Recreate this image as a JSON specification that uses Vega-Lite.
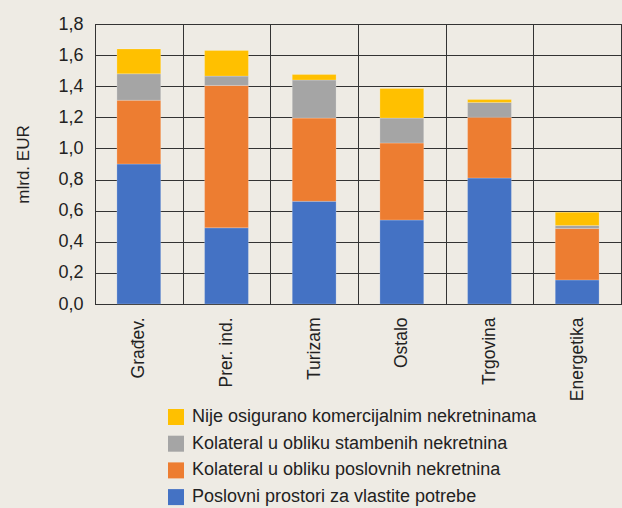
{
  "$schema": "https://vega.github.io/schema/vega-lite/v6.json",
  "autosize": {"type": "none"},
  "padding": {"left": 95, "top": 24, "right": 1, "bottom": 204},
  "width": 526,
  "height": 280,
  "background": "#EEEBE4",
  "config": {
    "font": "Liberation Sans, Arial, sans-serif",
    "view": {"stroke": "#333333", "strokeWidth": 1}
  },
  "data": {
    "values": [
      {"sektor": "Građev.", "vrsta": "Poslovni prostori za vlastite potrebe", "iznos": 0.90},
      {"sektor": "Građev.", "vrsta": "Kolateral u obliku poslovnih nekretnina", "iznos": 0.41},
      {"sektor": "Građev.", "vrsta": "Kolateral u obliku stambenih nekretnina", "iznos": 0.17},
      {"sektor": "Građev.", "vrsta": "Nije osigurano komercijalnim nekretninama", "iznos": 0.16},
      {"sektor": "Prer. ind.", "vrsta": "Poslovni prostori za vlastite potrebe", "iznos": 0.49},
      {"sektor": "Prer. ind.", "vrsta": "Kolateral u obliku poslovnih nekretnina", "iznos": 0.915},
      {"sektor": "Prer. ind.", "vrsta": "Kolateral u obliku stambenih nekretnina", "iznos": 0.06},
      {"sektor": "Prer. ind.", "vrsta": "Nije osigurano komercijalnim nekretninama", "iznos": 0.165},
      {"sektor": "Turizam", "vrsta": "Poslovni prostori za vlastite potrebe", "iznos": 0.66},
      {"sektor": "Turizam", "vrsta": "Kolateral u obliku poslovnih nekretnina", "iznos": 0.535},
      {"sektor": "Turizam", "vrsta": "Kolateral u obliku stambenih nekretnina", "iznos": 0.245},
      {"sektor": "Turizam", "vrsta": "Nije osigurano komercijalnim nekretninama", "iznos": 0.035},
      {"sektor": "Ostalo", "vrsta": "Poslovni prostori za vlastite potrebe", "iznos": 0.54},
      {"sektor": "Ostalo", "vrsta": "Kolateral u obliku poslovnih nekretnina", "iznos": 0.495},
      {"sektor": "Ostalo", "vrsta": "Kolateral u obliku stambenih nekretnina", "iznos": 0.16},
      {"sektor": "Ostalo", "vrsta": "Nije osigurano komercijalnim nekretninama", "iznos": 0.19},
      {"sektor": "Trgovina", "vrsta": "Poslovni prostori za vlastite potrebe", "iznos": 0.81},
      {"sektor": "Trgovina", "vrsta": "Kolateral u obliku poslovnih nekretnina", "iznos": 0.39},
      {"sektor": "Trgovina", "vrsta": "Kolateral u obliku stambenih nekretnina", "iznos": 0.095},
      {"sektor": "Trgovina", "vrsta": "Nije osigurano komercijalnim nekretninama", "iznos": 0.02},
      {"sektor": "Energetika", "vrsta": "Poslovni prostori za vlastite potrebe", "iznos": 0.155},
      {"sektor": "Energetika", "vrsta": "Kolateral u obliku poslovnih nekretnina", "iznos": 0.33},
      {"sektor": "Energetika", "vrsta": "Kolateral u obliku stambenih nekretnina", "iznos": 0.02},
      {"sektor": "Energetika", "vrsta": "Nije osigurano komercijalnim nekretninama", "iznos": 0.085}
    ]
  },
  "transform": [
    {"calculate": "indexof(['Poslovni prostori za vlastite potrebe', 'Kolateral u obliku poslovnih nekretnina', 'Kolateral u obliku stambenih nekretnina', 'Nije osigurano komercijalnim nekretninama'], datum.vrsta)", "as": "redoslijed"}
  ],
  "mark": {"type": "bar", "width": {"band": 0.5}, "stroke": "#ffffff", "strokeOpacity": 0.35, "strokeWidth": 0.6},
  "encoding": {
    "x": {
      "field": "sektor",
      "type": "nominal",
      "sort": null,
      "scale": {"paddingInner": 0, "paddingOuter": 0},
      "axis": {
        "title": null,
        "labelAngle": -90,
        "labelAlign": "right",
        "labelBaseline": "middle",
        "labelPadding": 13,
        "labelFontSize": 17.5,
        "labelColor": "#222222",
        "ticks": false,
        "tickBand": "extent",
        "grid": true,
        "gridColor": "#333333",
        "gridWidth": 1,
        "domainColor": "#333333"
      }
    },
    "y": {
      "field": "iznos",
      "type": "quantitative",
      "stack": "zero",
      "scale": {"domain": [0, 1.8], "nice": false},
      "axis": {
        "title": "mlrd. EUR",
        "titleFontSize": 17,
        "titleFontWeight": "normal",
        "titleColor": "#222222",
        "titlePadding": 25,
        "values": [0, 0.2, 0.4, 0.6, 0.8, 1.0, 1.2, 1.4, 1.6, 1.8],
        "labelExpr": "replace(format(datum.value, '.1f'), '.', ',')",
        "labelFontSize": 18,
        "labelColor": "#222222",
        "labelPadding": 12,
        "ticks": false,
        "grid": true,
        "gridColor": "#333333",
        "gridWidth": 1,
        "domainColor": "#333333"
      }
    },
    "color": {
      "field": "vrsta",
      "type": "nominal",
      "scale": {
        "domain": ["Poslovni prostori za vlastite potrebe", "Kolateral u obliku poslovnih nekretnina", "Kolateral u obliku stambenih nekretnina", "Nije osigurano komercijalnim nekretninama"],
        "range": ["#4472C4", "#ED7D31", "#A5A5A5", "#FFC000"]
      },
      "legend": {
        "title": null,
        "orient": "none",
        "legendX": 72,
        "legendY": 384,
        "padding": 0,
        "values": ["Nije osigurano komercijalnim nekretninama", "Kolateral u obliku stambenih nekretnina", "Kolateral u obliku poslovnih nekretnina", "Poslovni prostori za vlastite potrebe"],
        "symbolType": "square",
        "symbolSize": 256,
        "symbolStrokeWidth": 0,
        "labelFontSize": 18,
        "labelColor": "#222222",
        "labelOffset": 7,
        "labelLimit": 500,
        "rowPadding": 8.7
      }
    },
    "order": {"field": "redoslijed", "type": "quantitative", "sort": "ascending"}
  }
}
